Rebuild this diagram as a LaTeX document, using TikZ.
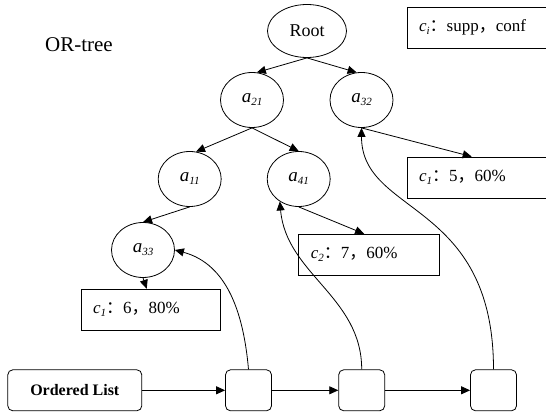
\documentclass[tikz,border=0pt]{standalone}
\usepackage{fontspec}
\setmainfont{Liberation Serif}
\newfontfamily\cjk{Noto Sans CJK SC}
\usetikzlibrary{shapes.geometric,arrows.meta,calc}
\tikzset{ell/.style={ellipse,draw,inner sep=0pt,minimum width=63pt,minimum height=55pt,font=\fontsize{19}{21}\selectfont},
  lbl/.style={draw,rectangle,anchor=west,minimum height=41pt,inner xsep=12pt,align=left,font=\fontsize{17}{19}\selectfont},
  cell/.style={draw,rounded corners=5pt,minimum width=46pt,minimum height=41pt},
  arr/.style={-{Triangle[length=9pt,width=8pt]}}}
\newcommand{\attr}[1]{\textit{a}\lower3pt\hbox{\fontsize{11}{11}\selectfont\itshape #1}}
\newcommand{\cnt}[1]{\textit{c}\lower3pt\hbox{\fontsize{11}{11}\selectfont\itshape #1}}
\newcommand{\sep}[1]{{\cjk #1}}
\begin{document}
\begin{tikzpicture}[x=1pt,y=1pt,line width=.8pt]
  \clip (0,0) rectangle (546,415);
  \node[font=\fontsize{21}{23}\selectfont] (title) at (79,370) {OR-tree};
  % tree
  \node[ell,minimum width=79pt,minimum height=53pt,font=\fontsize{18}{20}\selectfont] (root) at (307,384) {Root};
  \node[ell] (a21) at (252,315) {\attr{21}};\node[ell] (a32) at (361.5,315) {\attr{32}};
  \node[ell] (a11) at (189.7,236) {\attr{11}};\node[ell] (a41) at (298.7,236) {\attr{41}};
  \node[ell] (a33) at (143,165) {\attr{33}};
  % counters
  \node[lbl,text width=140pt] (lgd) at (406.7,387.2) {\cnt{i}\sep{：}supp\sep{，}conf};
  \node[lbl,text width=140pt] (c32) at (406.7,237.5) {\cnt{1}\sep{：}5\sep{，}60\%};
  \node[lbl,text width=116.6pt] (c41) at (298.4,160.3) {\cnt{2}\sep{：}7\sep{，}60\%};
  \node[lbl,text width=115pt] (c33) at (80.8,105.3) {\cnt{1}\sep{：}6\sep{，}80\%};
  % list
  \node[cell,minimum width=134pt,font=\bfseries\fontsize{16}{18}\selectfont] (olist) at (74.8,24.7) {Ordered List};
  \node[cell] (p1) at (248.5,24.7) {};\node[cell] (p2) at (361.7,24.7) {};\node[cell] (p3) at (493.5,24.7) {};
  \draw[arr] (root.south) -- (a21.80);
  \draw[arr] (root.south) -- (a32.100);
  \draw[arr] (a21.south) -- (a11.77);
  \draw[arr] (a21.south) -- (a41.north);
  \draw[arr] (a32.south) -- ([xshift=65pt]c32.north west);
  \draw[arr] (a11.south) -- (a33.north);
  \draw[arr] (a41.south) -- ([xshift=-5pt]c41.north);
  \draw[arr] (a33.south) -- ([xshift=-4pt]c33.north);
  \draw[arr] (olist) -- (p1);
  \draw[arr] (p1) -- (p2);
  \draw[arr] (p2) -- (p3);
  \draw[arr] (p1.north) to[out=95,in=-15] (a33.east);
  \draw[arr] (p2.north) to[out=90,in=-85] (a41.-130);
  \draw[arr] (p3.north) to[out=90,in=-90,out distance=170pt,in distance=88pt] (a32.south);
\end{tikzpicture}
\end{document}
